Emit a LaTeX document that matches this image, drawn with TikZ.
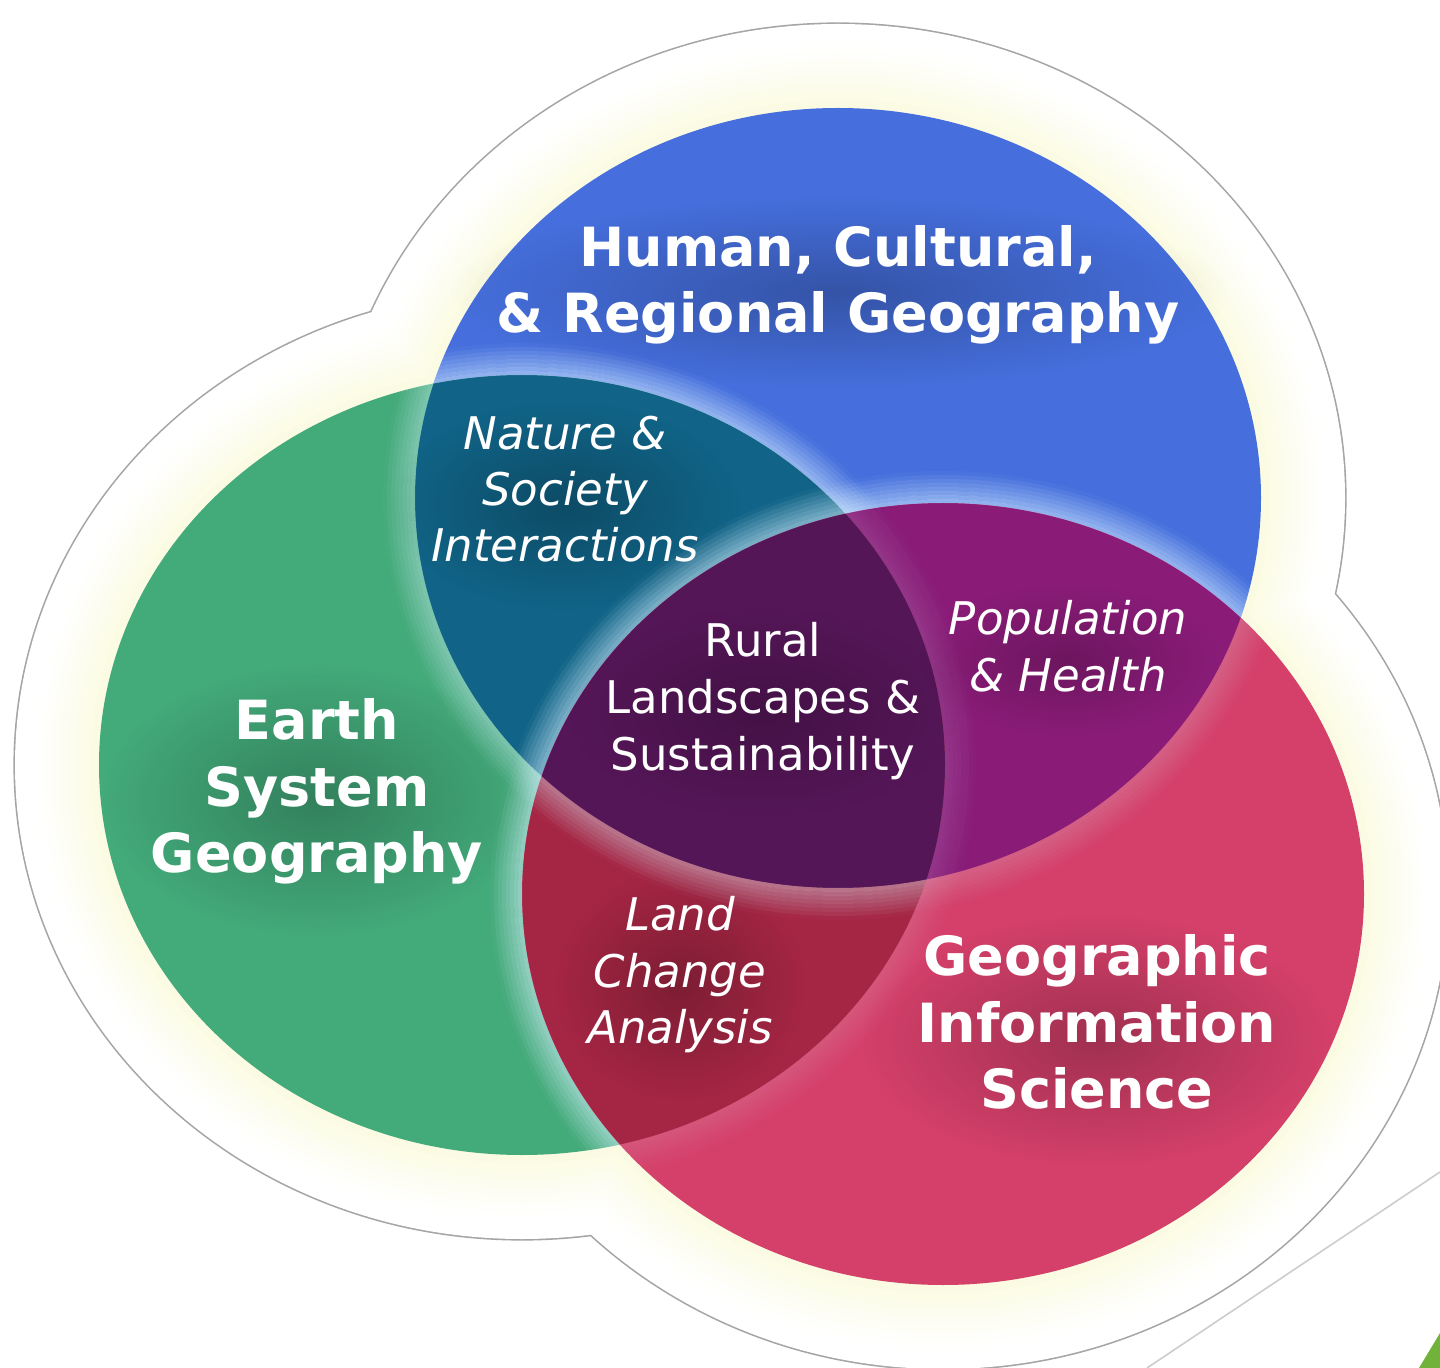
\documentclass[tikz,border=0pt]{standalone}
\usepackage{fontspec}
\setmainfont{DejaVu Sans}
\usetikzlibrary{fadings}
\definecolor{cB}{RGB}{70,111,221}
\definecolor{cG}{RGB}{67,170,122}
\definecolor{cR}{RGB}{212,64,106}
\definecolor{cBG}{RGB}{17,100,135}
\definecolor{cBR}{RGB}{138,28,120}
\definecolor{cGR}{RGB}{165,38,68}
\definecolor{cAll}{RGB}{85,22,88}
\definecolor{cream}{RGB}{251,251,226}
\definecolor{outl}{RGB}{165,165,165}
\definecolor{glowc}{RGB}{215,240,255}
\definecolor{tri}{RGB}{112,178,58}
\definecolor{diag}{RGB}{205,205,205}
\tikzfading[name=softglow, inner color=transparent!30, outer color=transparent!100]
\newcommand\ellB[1]{(838,498) ellipse [x radius={423+#1}, y radius={390+#1}]}
\newcommand\ellG[1]{(522,765) ellipse [x radius={423+#1}, y radius={390+#1}]}
\newcommand\ellR[1]{(943,894) ellipse [x radius={421+#1}, y radius={391+#1}]}
\newcommand\glowring[3]{%
  \begin{scope}[even odd rule]
    #2
    \foreach \d in {2,6,...,30}{%
      \pgfmathsetmacro\op{#3*(1-\d/32)}%
      \draw[glowc, opacity=\op, line width=2pt] #1{\d};
    }
  \end{scope}}
\tikzset{
  ttl/.style={text=white, font=\bfseries\fontsize{27}{33}\selectfont, anchor=base},
  itl/.style={text=white, font=\itshape\fontsize{22.5}{28}\selectfont, anchor=base},
  reg/.style={text=white, font=\fontsize{22.5}{28}\selectfont, anchor=base},
  halo/.style={black, opacity=#1, path fading=softglow},
}
\begin{document}
\begin{tikzpicture}[x=0.5pt, y=-0.5pt]
\useasboundingbox (0,0) rectangle (1440,1368);
\clip (0,0) rectangle (1440,1368);
\fill[white] (0,0) rectangle (1440,1368);
% outer outline (union of enlarged circles)
\draw[outl, line width=1.6pt] \ellB{84} \ellG{84} \ellR{84};
\fill[white] \ellB{84} \ellG{84} \ellR{84};
% cream glow
\foreach \d/\p in {64/6,56/16,48/28,40/42,32/56,24/70,16/84,8/96}{%
  \fill[cream!\p!white] \ellB{\d} \ellG{\d} \ellR{\d};
}
% base circles
\fill[cB] \ellB{0};
\fill[cG] \ellG{0};
\fill[cR] \ellR{0};
\begin{scope}\clip \ellB{0}; \fill[cBG] \ellG{0}; \end{scope}
\begin{scope}\clip \ellB{0}; \fill[cBR] \ellR{0}; \end{scope}
\begin{scope}\clip \ellG{0}; \fill[cGR] \ellR{0}; \end{scope}
\begin{scope}\clip \ellB{0}; \clip \ellG{0}; \fill[cAll] \ellR{0}; \end{scope}
% edge glows
\glowring{\ellB}{\clip \ellG{0};}{0.4}
\glowring{\ellB}{\clip \ellR{0}; \clip (0,0) rectangle (1440,1368) \ellG{0};}{0.18}
\glowring{\ellG}{\clip \ellB{0}; \clip (0,0) rectangle (1440,1368) \ellR{0};}{0.55}
\glowring{\ellG}{\clip \ellR{0};}{0.12}
\glowring{\ellR}{\clip \ellB{0};}{0.55}
\glowring{\ellR}{\clip \ellG{0}; \clip (0,0) rectangle (1440,1368) \ellB{0};}{0.55}
% dark halos behind texts
\fill[halo=0.35] (838,292) ellipse [x radius=390, y radius=95];
\fill[halo=0.35] (565,505) ellipse [x radius=175, y radius=105];
\fill[halo=0.3] (763,712) ellipse [x radius=195, y radius=105];
\fill[halo=0.35] (317,800) ellipse [x radius=215, y radius=135];
\fill[halo=0.3] (1068,660) ellipse [x radius=150, y radius=75];
\fill[halo=0.35] (680,985) ellipse [x radius=125, y radius=115];
\fill[halo=0.35] (1097,1040) ellipse [x radius=235, y radius=125];
% texts
\node[ttl] (h1) at (838,267) {Human, Cultural,};
\node[ttl] (h2) at (838,333) {\& Regional Geography};
\node[itl] (n1) at (565,450) {Nature \&};
\node[itl] (n2) at (565,506) {Society};
\node[itl] (n3) at (565,562) {Interactions};
\node[reg] (r1) at (763,657) {Rural};
\node[reg] (r2) at (763,714) {Landscapes \&};
\node[reg] (r3) at (763,770) {Sustainability};
\node[itl] (p1) at (1068,635) {Population};
\node[itl] (p2) at (1068,692) {\& Health};
\node[ttl] (e1) at (317,740) {Earth};
\node[ttl] (e2) at (317,806) {System};
\node[ttl] (e3) at (317,872) {Geography};
\node[itl] (l1) at (680,930) {Land};
\node[itl] (l2) at (680,987) {Change};
\node[itl] (l3) at (680,1043) {Analysis};
\node[ttl] (g1) at (1097,975) {Geographic};
\node[ttl] (g2) at (1097,1042) {Information};
\node[ttl] (g3) at (1097,1108) {Science};
% corner decorations
\coordinate (d1) at (1440,1172);
\coordinate (d2) at (1147,1368);
\draw[diag, line width=0.8pt] (d1) -- (d2);
\fill[tri] (1419,1368) -- (1440,1333) -- (1440,1368) -- cycle;
\end{tikzpicture}
\end{document}
